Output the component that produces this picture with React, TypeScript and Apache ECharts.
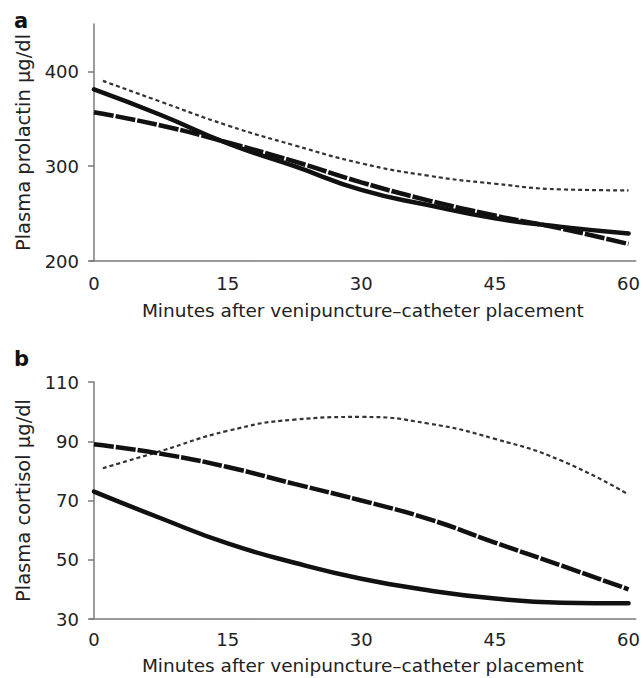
import React, { useEffect, useRef } from "react";
import * as echarts from "echarts";

const minutes = [0, 7.5, 15, 22.5, 30, 37.5, 45, 52.5, 60];
const dottedMinutes = [1, 7.5, 15, 22.5, 30, 37.5, 45, 52.5, 60];

// Panel a: prolactin
const prolactinSolid = [381, 354, 324, 300, 275, 259, 245, 236, 229];
const prolactinDashed = [357, 343, 325, 305, 283, 264, 248, 234, 218];
const prolactinDotted = [390, 368, 343, 322, 303, 290, 281.5, 275.5, 274.5];

// Panel b: cortisol
const cortisolSolid = [73, 64, 55.5, 49, 43.6, 39.7, 36.9, 35.5, 35.3];
const cortisolDashed = [89, 85.8, 81.3, 75.6, 70, 63.8, 55.8, 48, 40];
const cortisolDotted = [80.9, 86.7, 93.5, 97.3, 98.2, 96, 90.8, 83.4, 72];

const xTickLabels = [0, 15, 30, 45, 60];
const prolactinTicks = [200, 300, 400];
const cortisolTicks = [30, 50, 70, 90, 110];

const pairs = (xs: number[], ys: number[]) => xs.map((x, i) => [x, ys[i]]);

const FONT = "DejaVu Sans";
const TXT = "#222";
const AXIS = "#7a7a7a";

export default function App() {
  const ref = useRef<HTMLDivElement>(null);
  useEffect(() => {
    const chart = echarts.init(ref.current!, undefined, { renderer: "svg" });
    const xAxisBase = (gridIndex: number, labelMargin: number, nameGap: number) => ({
      type: "value",
      gridIndex,
      min: -0.45,
      max: 60.8,
      name: "Minutes after venipuncture–catheter placement",
      nameLocation: "middle",
      nameGap,
      nameTextStyle: { fontFamily: FONT, fontSize: 18.5, color: TXT },
      axisLine: { show: true, onZero: false, lineStyle: { color: AXIS, width: 1.5 } },
      axisTick: { show: false },
      splitLine: { show: false },
      axisLabel: {
        customValues: xTickLabels,
        margin: labelMargin,
        fontFamily: FONT,
        fontSize: 18,
        color: TXT,
      },
    });
    const yAxisBase = (
      gridIndex: number,
      min: number,
      max: number,
      ticks: number[],
      name: string
    ) => ({
      type: "value",
      gridIndex,
      min,
      max,
      name,
      nameLocation: "middle",
      nameGap: 57,
      nameTextStyle: { fontFamily: FONT, fontSize: 19.5, color: TXT },
      axisLine: { show: true, lineStyle: { color: AXIS, width: 1.5 } },
      axisTick: { show: true, customValues: ticks, length: 6, lineStyle: { color: AXIS, width: 1.5 } },
      splitLine: { show: false },
      axisLabel: {
        customValues: ticks,
        margin: 11,
        fontFamily: FONT,
        fontSize: 18,
        color: TXT,
      },
    });
    const common = (data: number[][], xi: number) => ({
      type: "line",
      xAxisIndex: xi,
      yAxisIndex: xi,
      data,
      smooth: 0.5,
      showSymbol: false,
      silent: true,
    });
    const solid = (data: number[][], xi: number) => ({
      ...common(data, xi),
      lineStyle: { color: "#111", width: 4.5, type: "solid", cap: "round" },
    });
    const dashed = (data: number[][], xi: number) => ({
      ...common(data, xi),
      lineStyle: { color: "#111", width: 4.5, type: [20, 2] },
    });
    const dotted = (data: number[][], xi: number) => ({
      ...common(data, xi),
      lineStyle: { color: "#333", width: 2.2, type: [4, 3] },
    });
    chart.setOption({
      animation: false,
      backgroundColor: "#fff",
      grid: [
        { left: 90, right: 6, top: 24, height: 237 },
        { left: 90, right: 6, top: 382, height: 237 },
      ],
      xAxis: [xAxisBase(0, 13, 40), xAxisBase(1, 11, 37)],
      yAxis: [
        yAxisBase(0, 200, 450, prolactinTicks, "Plasma prolactin µg/dl"),
        yAxisBase(1, 30, 110, cortisolTicks, "Plasma cortisol µg/dl"),
      ],
      graphic: [
        { type: "text", left: 14, top: 10, style: { text: "a", font: `bold 21px ${FONT}`, fill: "#111" } },
        { type: "text", left: 14, top: 348, style: { text: "b", font: `bold 21px ${FONT}`, fill: "#111" } },
      ],
      series: [
        dotted(pairs(dottedMinutes, prolactinDotted), 0),
        dashed(pairs(minutes, prolactinDashed), 0),
        solid(pairs(minutes, prolactinSolid), 0),
        dotted(pairs(dottedMinutes, cortisolDotted), 1),
        dashed(pairs(minutes, cortisolDashed), 1),
        solid(pairs(minutes, cortisolSolid), 1),
      ],
    });
    return () => chart.dispose();
  }, []);
  return <div ref={ref} style={{ width: 643, height: 678, position: "absolute", left: 0, top: 0 }} />;
}
